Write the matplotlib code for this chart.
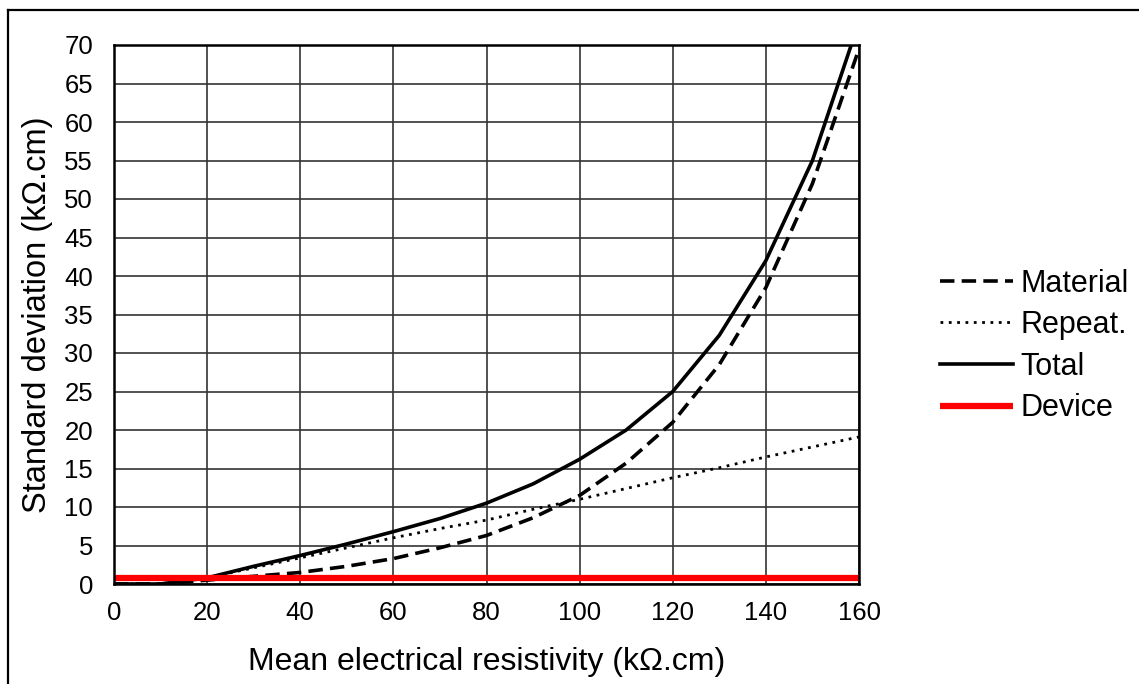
import matplotlib
matplotlib.use("Agg")
import matplotlib.pyplot as plt
from matplotlib.lines import Line2D

plt.rcParams['font.family'] = ['Liberation Sans', 'DejaVu Sans']

x = [0, 10, 20, 30, 40, 50, 60, 70, 80, 90, 100, 110, 120, 130, 140, 150, 160]
material = [0, 0, 0.5, 1.0, 1.5, 2.3, 3.3, 4.7, 6.3, 8.6, 11.5, 15.7, 21.0, 28.5, 38.5, 52.0, 69.5]
repeat = [0, 0, 0.8, 2.1, 3.4, 4.7, 6.0, 7.2, 8.3, 9.7, 11.0, 12.4, 13.8, 15.1, 16.5, 17.8, 19.1]
total = [0, 0, 0.8, 2.3, 3.7, 5.2, 6.8, 8.5, 10.5, 13.0, 16.2, 20.0, 25.0, 32.3, 42.0, 55.0, 73.0]
device = [0.8] * len(x)

W, H = 1139, 684
fig = plt.figure(figsize=(W/100, H/100), dpi=100)
ax = fig.add_axes([114/W, 1 - 584/H, (859-114)/W, (584-45)/H])

ax.plot(x, material, color='black', lw=2.6, ls=(0, (4, 2)), label='Material')
ax.plot(x, repeat, color='black', lw=2.0, ls=(0, (1, 2)), label='Repeat.')
ax.plot(x, total, color='black', lw=2.6, ls='-', label='Total')
ax.plot(x, device, color='#ff0000', lw=4.5, ls='-', label='Device', solid_capstyle='butt')

ax.set_xlim(0, 160)
ax.set_ylim(0, 70)
ax.set_xticks(range(0, 161, 20))
ax.set_yticks(range(0, 71, 5))
ax.grid(True, color='#333333', lw=1.2)
ax.set_axisbelow(True)
for s in ax.spines.values():
    s.set_linewidth(1.8)
    s.set_color('black')
ax.tick_params(axis='both', length=0, labelsize=18.5)
ax.tick_params(axis='x', pad=12)
ax.tick_params(axis='y', pad=15)

ax.set_xlabel('Mean electrical resistivity (k\u03a9.cm)', fontsize=23, labelpad=16)
ax.set_ylabel('Standard deviation (k\u03a9.cm)', fontsize=23.5, labelpad=8)

leg = ax.legend(loc='center left', bbox_to_anchor=(1.092, 0.4416), frameon=False,
                borderaxespad=0, fontsize=22, handlelength=2.4, handletextpad=0.25,
                labelspacing=0.38)

fig.add_artist(Line2D([8/W, 1.0], [1 - 10/H, 1 - 10/H], transform=fig.transFigure,
                      color='black', lw=1.6))
fig.add_artist(Line2D([8/W, 8/W], [0.0, 1 - 10/H], transform=fig.transFigure,
                      color='black', lw=1.6))

fig.savefig('out.png', dpi=100)
